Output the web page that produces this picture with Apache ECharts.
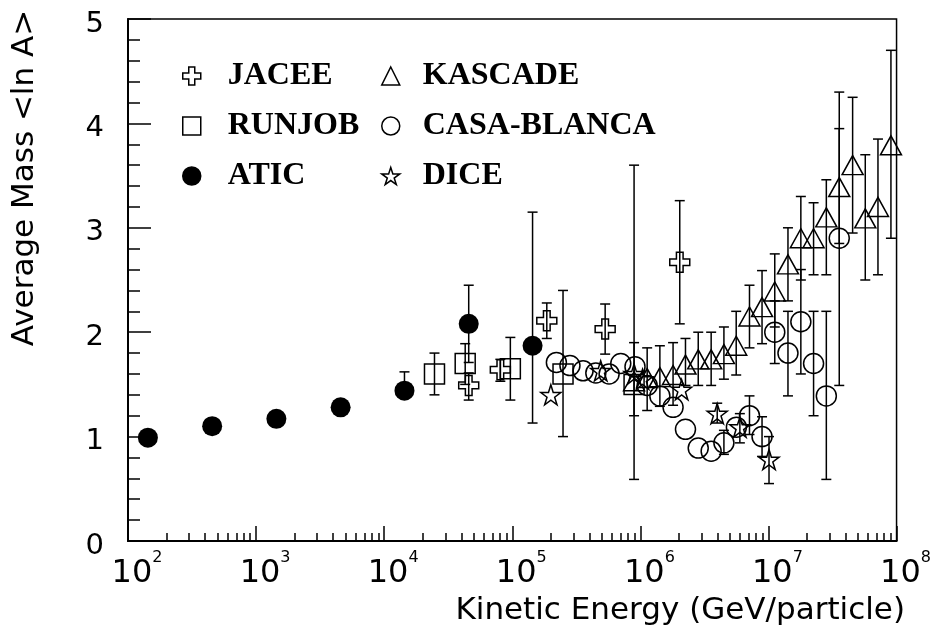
<!DOCTYPE html>
<html>
<head>
<meta charset="utf-8">
<title>Average Mass vs Kinetic Energy</title>
<script src="https://cdn.jsdelivr.net/npm/echarts@6/dist/echarts.min.js"></script>
<style>
  html, body { margin: 0; padding: 0; background: #fff; }
  #chart { width: 934px; height: 637px; }
</style>
</head>
<body>
<div id="chart"></div>
<script>
// values: energy in GeV/particle, <ln A>, upper / lower error ends
const jaceeE = [4.57e4, 8.07e4, 1.86e5, 5.31e5, 2.03e6];
const jaceeM = [1.49, 1.64, 2.11, 2.03, 2.67];
const jaceeHi = [1.61, 1.74, 2.28, 2.27, 3.26];
const jaceeLo = [1.35, 1.53, 1.94, 1.79, 2.08];

const runjobE = [2.47e4, 4.29e4, 9.66e4, 2.49e5, 8.93e5];
const runjobM = [1.60, 1.70, 1.65, 1.60, 1.50];
const runjobHi = [1.80, 1.89, 1.95, 2.40, 3.60];
const runjobLo = [1.40, 1.50, 1.35, 1.00, 0.59];

const aticE = [1.43e2, 4.54e2, 1.44e3, 4.57e3, 1.44e4, 4.57e4, 1.44e5];
const aticM = [0.99, 1.10, 1.17, 1.28, 1.44, 2.08, 1.87];
const aticHi = [null, null, null, null, 1.62, 2.45, 3.15];
const aticLo = [null, null, null, null, 1.38, 1.71, 1.13];

const kascadeE = [8.93e5, 1.13e6, 1.42e6, 1.80e6, 2.25e6, 2.83e6, 3.57e6, 4.49e6, 5.60e6, 7.11e6, 8.91e6,
  1.12e7, 1.42e7, 1.79e7, 2.25e7, 2.83e7, 3.57e7, 4.54e7, 5.70e7, 7.16e7, 9.04e7];
const kascadeM = [1.53, 1.56, 1.57, 1.59, 1.69, 1.74, 1.74, 1.79, 1.87, 2.15, 2.24,
  2.39, 2.65, 2.90, 2.90, 3.10, 3.39, 3.60, 3.09, 3.20, 3.79];
const kascadeHi = [1.90, 1.85, 1.87, 1.90, 1.94, 2.00, 2.00, 2.05, 2.20, 2.45, 2.59,
  2.75, 3.00, 3.30, 3.24, 3.46, 4.30, 4.25, 3.70, 3.85, 4.70];
const kascadeLo = [1.20, 1.25, 1.29, 1.30, 1.49, 1.49, 1.49, 1.55, 1.59, 1.85, 1.89,
  2.05, 2.30, 2.50, 2.55, 2.55, 2.85, 2.95, 2.50, 2.55, 2.90];

const casaE = [2.21e5, 2.82e5, 3.57e5, 4.49e5, 5.70e5, 7.03e5, 9.08e5, 1.13e6, 1.42e6, 1.80e6, 2.25e6, 2.83e6,
  3.57e6, 4.49e6, 5.62e6, 7.11e6, 8.91e6, 1.12e7, 1.42e7, 1.79e7, 2.25e7, 2.83e7, 3.57e7];
const casaM = [1.71, 1.68, 1.63, 1.61, 1.60, 1.70, 1.67, 1.49, 1.39, 1.28, 1.07, 0.89,
  0.86, 0.94, 1.09, 1.20, 1.00, 2.00, 1.80, 2.10, 1.70, 1.39, 2.90];
const casaHi = [null, null, null, null, null, null, null, null, null, null, null, null,
  null, 1.06, null, 1.39, 1.19, 2.30, 2.20, 2.60, 2.20, 2.20, 3.95];
const casaLo = [null, null, null, null, null, null, null, null, null, null, null, null,
  null, 0.83, null, 1.02, 0.81, 1.70, 1.39, 1.60, 1.20, 0.59, 1.49];

const diceE = [2.00e5, 4.90e5, 8.93e5, 1.04e6, 2.10e6, 3.98e6, 5.98e6, 1.01e7];
const diceM = [1.40, 1.63, 1.60, 1.55, 1.45, 1.22, 1.09, 0.78];
const diceHi = [null, null, null, null, null, 1.32, 1.22, 1.00];
const diceLo = [null, null, null, null, null, 1.13, 0.94, 0.55];

const xTickExps = [2, 3, 4, 5, 6, 7, 8];
const yTicks = [0, 1, 2, 3, 4, 5];

const crossPath = 'path://M1,0H2V1H3V2H2V3H1V2H0V1H1Z';
const starPath = 'path://M0,-1L0.2245,-0.309L0.951,-0.309L0.363,0.118L0.588,0.809L0,0.382L-0.588,0.809L-0.363,0.118L-0.951,-0.309L-0.2245,-0.309Z';

const datasets = [
  { name: 'JACEE', e: jaceeE, m: jaceeM, hi: jaceeHi, lo: jaceeLo, symbol: crossPath, size: 20, fill: false },
  { name: 'RUNJOB', e: runjobE, m: runjobM, hi: runjobHi, lo: runjobLo, symbol: 'rect', size: 20, fill: false },
  { name: 'ATIC', e: aticE, m: aticM, hi: aticHi, lo: aticLo, symbol: 'circle', size: 20, fill: true },
  { name: 'KASCADE', e: kascadeE, m: kascadeM, hi: kascadeHi, lo: kascadeLo, symbol: 'triangle', size: [21, 19], fill: false },
  { name: 'CASA-BLANCA', e: casaE, m: casaM, hi: casaHi, lo: casaLo, symbol: 'circle', size: 20, fill: false },
  { name: 'DICE', e: diceE, m: diceM, hi: diceHi, lo: diceLo, symbol: starPath, size: 20, fill: false }
];

// minor ticks for the log axis, drawn on a helper axis in log10 units
const minorTickPos = [];
for (let n = 2; n < 8; n++) {
  for (let k = 2; k <= 9; k++) minorTickPos.push(n + Math.log10(k));
}

const chart = echarts.init(document.getElementById('chart'), null, { renderer: 'canvas' });

function renderErrorBar(params, api) {
  const x = api.value(0);
  const pLo = api.coord([x, api.value(1)]);
  const pHi = api.coord([x, api.value(2)]);
  const w = 5;
  const st = { stroke: '#000', lineWidth: 1.5 };
  return {
    type: 'group',
    children: [
      { type: 'line', shape: { x1: pHi[0], y1: pHi[1], x2: pLo[0], y2: pLo[1] }, style: st },
      { type: 'line', shape: { x1: pHi[0] - w, y1: pHi[1], x2: pHi[0] + w, y2: pHi[1] }, style: st },
      { type: 'line', shape: { x1: pLo[0] - w, y1: pLo[1], x2: pLo[0] + w, y2: pLo[1] }, style: st }
    ]
  };
}

const series = [];
datasets.forEach(function (d) {
  const err = [];
  d.e.forEach(function (e, i) {
    if (d.hi[i] != null) err.push([e, d.lo[i], d.hi[i]]);
  });
  series.push({
    name: d.name + ' err',
    type: 'custom',
    renderItem: renderErrorBar,
    encode: { x: 0, y: [1, 2] },
    data: err,
    silent: true,
    z: 2
  });
});
datasets.forEach(function (d) {
  series.push({
    name: d.name,
    type: 'scatter',
    symbol: d.symbol,
    symbolSize: d.size,
    data: d.e.map(function (e, i) { return [e, d.m[i]]; }),
    itemStyle: {
      color: d.fill ? '#000' : 'rgba(0,0,0,0)',
      borderColor: '#000',
      borderWidth: d.fill ? 0 : 1.5,
      opacity: 1
    },
    emphasis: { disabled: true },
    z: 3
  });
});

const legendText = {
  fontFamily: 'Liberation Serif',
  fontWeight: 'bold',
  fontSize: 32,
  lineHeight: 32,
  color: '#000'
};

const option = {
  animation: false,
  backgroundColor: '#fff',
  grid: {
    left: 128, right: 36, top: 19, bottom: 96,
    show: true, borderColor: '#000', borderWidth: 1.5, backgroundColor: 'transparent'
  },
  legend: [
    {
      data: ['JACEE', 'RUNJOB', 'ATIC'],
      orient: 'vertical', left: 177, top: 55,
      itemWidth: 18, itemHeight: 18, itemGap: 18,
      selectedMode: false,
      itemStyle: { borderWidth: 1.5, opacity: 1 },
      textStyle: Object.assign({ padding: [0, 0, 0, 22] }, legendText)
    },
    {
      data: ['KASCADE', 'CASA-BLANCA', 'DICE'],
      orient: 'vertical', left: 376, top: 55,
      itemWidth: 18, itemHeight: 18, itemGap: 18,
      selectedMode: false,
      itemStyle: { borderWidth: 1.5, opacity: 1 },
      textStyle: Object.assign({ padding: [0, 0, 0, 18] }, legendText)
    }
  ],
  xAxis: [
    {
      type: 'log',
      logBase: 10,
      min: Math.pow(10, xTickExps[0]),
      max: Math.pow(10, xTickExps[xTickExps.length - 1]),
      position: 'bottom',
      axisLine: { lineStyle: { color: '#000', width: 2 } },
      axisTick: { inside: true, length: 15, lineStyle: { color: '#000', width: 1.5 } },
      splitLine: { show: false },
      axisLabel: {
        margin: 9,
        color: '#000',
        formatter: function (v) {
          return '{sp|}{b|10}{s|' + Math.round(Math.log10(v)) + '}';
        },
        rich: {
          sp: { width: 18 },
          b: { fontFamily: 'DejaVu Sans', fontSize: 32, lineHeight: 48, color: '#000' },
          s: { fontFamily: 'DejaVu Sans', fontSize: 16, lineHeight: 16, verticalAlign: 'top', color: '#000' }
        }
      }
    },
    {
      type: 'value',
      min: xTickExps[0],
      max: xTickExps[xTickExps.length - 1],
      position: 'bottom',
      axisLine: { show: false },
      axisLabel: { show: false },
      splitLine: { show: false },
      axisTick: {
        inside: true, length: 8, customValues: minorTickPos,
        lineStyle: { color: '#000', width: 1.5 }
      }
    }
  ],
  yAxis: {
    type: 'value',
    min: yTicks[0],
    max: yTicks[yTicks.length - 1],
    interval: 1,
    axisLine: { show: true, lineStyle: { color: '#000', width: 2 } },
    axisTick: { show: true, inside: true, length: 23, lineStyle: { color: '#000', width: 1.5 } },
    minorTick: { show: true, splitNumber: 5, length: 12, lineStyle: { color: '#000', width: 1.5 } },
    splitLine: { show: false },
    minorSplitLine: { show: false },
    axisLabel: {
      margin: 24,
      color: '#000',
      formatter: function (v) { return '{a|' + v + '}'; },
      rich: {
        a: { fontFamily: 'DejaVu Sans', fontSize: 29, color: '#000', padding: [10, 0, 0, 0] }
      }
    }
  },
  graphic: [
    {
      type: 'text',
      x: 25, y: 178,
      rotation: Math.PI / 2,
      style: {
        text: 'Average Mass <ln A>',
        fontFamily: 'DejaVu Sans',
        fontSize: 31,
        fill: '#000',
        align: 'center',
        verticalAlign: 'middle'
      }
    },
    {
      type: 'text',
      x: 905, y: 611,
      style: {
        text: 'Kinetic Energy (GeV/particle)',
        fontFamily: 'DejaVu Sans',
        fontSize: 31,
        fill: '#000',
        align: 'right',
        verticalAlign: 'middle'
      }
    }
  ],
  series: series
};

chart.setOption(option);
window.addEventListener('resize', function () { chart.resize(); });
</script>
</body>
</html>
